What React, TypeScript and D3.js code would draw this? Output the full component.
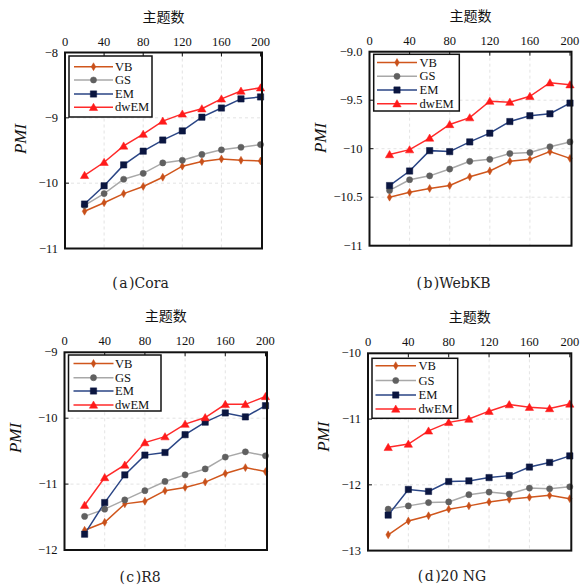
import React from "react";
import * as d3 from "d3";

const topics = [20, 40, 60, 80, 100, 120, 140, 160, 180, 200];
const xTicks = [0, 40, 80, 120, 160, 200];
const seriesNames = ["VB", "GS", "EM", "dwEM"];

// Cora
const coraVB = [-10.43, -10.3, -10.16, -10.05, -9.91, -9.74, -9.67, -9.63, -9.65, -9.66];
const coraGS = [-10.34, -10.16, -9.94, -9.85, -9.69, -9.65, -9.56, -9.49, -9.45, -9.41];
const coraEM = [-10.32, -10.04, -9.72, -9.51, -9.34, -9.2, -8.99, -8.85, -8.71, -8.68];
const coraDW = [-9.88, -9.68, -9.43, -9.25, -9.05, -8.94, -8.86, -8.71, -8.59, -8.54];
const coraYTicks = [-8, -9, -10, -11];
const coraYLabels = ["−8", "−9", "−10", "−11"];

// WebKB
const webVB = [-10.5, -10.45, -10.41, -10.38, -10.29, -10.23, -10.13, -10.11, -10.03, -10.1];
const webGS = [-10.43, -10.32, -10.28, -10.21, -10.13, -10.11, -10.05, -10.04, -9.98, -9.93];
const webEM = [-10.38, -10.23, -10.02, -10.03, -9.93, -9.84, -9.72, -9.66, -9.64, -9.53];
const webDW = [-10.06, -10.01, -9.89, -9.75, -9.68, -9.51, -9.52, -9.46, -9.32, -9.34];
const webYTicks = [-9, -9.5, -10, -10.5, -11];
const webYLabels = ["−9.0", "−9.5", "−10", "−10.5", "−11"];

// R8
const r8VB = [-11.7, -11.58, -11.3, -11.26, -11.1, -11.05, -10.97, -10.84, -10.75, -10.81];
const r8GS = [-11.49, -11.38, -11.24, -11.1, -10.96, -10.86, -10.77, -10.59, -10.51, -10.57];
const r8EM = [-11.76, -11.28, -10.86, -10.56, -10.52, -10.25, -10.06, -9.92, -9.98, -9.81];
const r8DW = [-11.32, -10.9, -10.71, -10.37, -10.28, -10.09, -9.99, -9.79, -9.79, -9.67];
const r8YTicks = [-9, -10, -11, -12];
const r8YLabels = ["−9", "−10", "−11", "−12"];

// 20 NG
const ngVB = [-12.76, -12.55, -12.47, -12.37, -12.32, -12.26, -12.22, -12.19, -12.16, -12.21];
const ngGS = [-12.37, -12.32, -12.27, -12.26, -12.15, -12.11, -12.14, -12.05, -12.06, -12.03];
const ngEM = [-12.46, -12.07, -12.1, -11.95, -11.94, -11.89, -11.86, -11.73, -11.66, -11.56];
const ngDW = [-11.43, -11.38, -11.18, -11.05, -11.0, -10.88, -10.78, -10.82, -10.84, -10.77];
const ngYTicks = [-10, -11, -12, -13];
const ngYLabels = ["−10", "−11", "−12", "−13"];

const lineColors = ["#d0561c", "#a8a8a8", "#2a4585", "#ff2a2a"];
const markerColors = ["#c8501a", "#606060", "#0b1640", "#ff1a1a"];
const markerTypes = [d3.symbolDiamond, d3.symbolCircle, d3.symbolSquare, d3.symbolTriangle];
const markerSizes = [18, 30, 40, 30];

const SERIF = "'Liberation Serif', 'Times New Roman', serif";
const WIDE_SERIF = "'DejaVu Serif', serif";
const CJK = "'Noto Sans CJK SC', sans-serif";

type PanelCfg = {
  left: number; top: number; w: number; h: number;
  series: number[][];
  yTicks: number[]; yLabels: string[];
  caption: string; capX: number; capY: number;
  legend: { x0: number; y0: number; x1: number; y1: number; rows: number[]; lx0: number; lx1: number; tx: number };
  pmiX: number; pmiY: number;
};

const panels: PanelCfg[] = [
  {
    left: 65, top: 52.5, w: 197, h: 196,
    series: [coraVB, coraGS, coraEM, coraDW],
    yTicks: coraYTicks, yLabels: coraYLabels,
    caption: "a", capX: 140.5, capY: 283,
    legend: { x0: 69, y0: 56, x1: 152, y1: 117, rows: [66.7, 80, 94, 107.3], lx0: 74, lx1: 113, tx: 115 },
    pmiX: 20, pmiY: 139,
  },
  {
    left: 369.5, top: 51.7, w: 202, h: 194,
    series: [webVB, webGS, webEM, webDW],
    yTicks: webYTicks, yLabels: webYLabels,
    caption: "b", capX: 453.5, capY: 283,
    legend: { x0: 373.7, y0: 54.3, x1: 459.3, y1: 111, rows: [62.5, 76.3, 90, 103.7], lx0: 377, lx1: 417, tx: 419.5 },
    pmiX: 320, pmiY: 138,
  },
  {
    left: 64.5, top: 352.3, w: 202.5, h: 197.7,
    series: [r8VB, r8GS, r8EM, r8DW],
    yTicks: r8YTicks, yLabels: r8YLabels,
    caption: "c", capX: 140, capY: 576.5,
    legend: { x0: 68.5, y0: 355, x1: 161, y1: 411, rows: [363.5, 377.7, 391, 405], lx0: 73.5, lx1: 113.5, tx: 115 },
    pmiX: 15, pmiY: 438,
  },
  {
    left: 368, top: 353.3, w: 203.3, h: 197.3,
    series: [ngVB, ngGS, ngEM, ngDW],
    yTicks: ngYTicks, yLabels: ngYLabels,
    caption: "d", capX: 452, capY: 576,
    legend: { x0: 372, y0: 358.3, x1: 457.7, y1: 418.3, rows: [365.7, 380.5, 395, 409], lx0: 375.5, lx1: 416, tx: 418.5 },
    pmiX: 323.5, pmiY: 436.7,
  },
];
const captionNames = ["Cora", "WebKB", "R8", "20 NG"];

function Marker({ i, x, y }: { i: number; x: number; y: number }) {
  const p = d3.symbol().type(markerTypes[i]).size(markerSizes[i])() || "";
  const dy = i === 3 ? 0.8 : 0;
  return <path d={p} transform={`translate(${x},${y + dy})`} fill={markerColors[i]} stroke={markerColors[i]} strokeWidth={0.5} />;
}

function Panel({ cfg, idx }: { cfg: PanelCfg; idx: number }) {
  const { left, top, w, h } = cfg;
  const x = d3.scaleLinear().domain([0, 201.5]).range([left, left + w]);
  const yMax = cfg.yTicks[0];
  const yMin = cfg.yTicks[cfg.yTicks.length - 1];
  const y = d3.scaleLinear().domain([yMin, yMax]).range([top + h, top]);
  const line = d3.line<number>().x((_, j) => x(topics[j])).y((d) => y(d));
  const cx = left + w / 2;
  const L = cfg.legend;
  return (
    <g>
      {xTicks.filter((t) => t > 0 && t < 200).map((t) => (
        <line key={"gx" + t} x1={x(t)} x2={x(t)} y1={top} y2={top + h} stroke="#dcdcdc" strokeWidth={0.8} strokeDasharray="3,3" />
      ))}
      {cfg.yTicks.slice(1, -1).map((t) => (
        <line key={"gy" + t} x1={left} x2={left + w} y1={y(t)} y2={y(t)} stroke="#dcdcdc" strokeWidth={0.8} strokeDasharray="3,3" />
      ))}
      {cfg.series.map((s, i) => (
        <path key={"l" + i} d={line(s) || ""} fill="none" stroke={lineColors[i]} strokeWidth={1.5} />
      ))}
      {cfg.series.map((s, i) =>
        s.map((v, j) => <Marker key={"m" + i + "-" + j} i={i} x={x(topics[j])} y={y(v)} />)
      )}
      <rect x={left} y={top} width={w} height={h} fill="none" stroke="#111" strokeWidth={2} />
      {xTicks.filter((t) => t > 0 && t < 201).map((t) => (
        <line key={"tx" + t} x1={x(t)} x2={x(t)} y1={top} y2={top + 4} stroke="#111" strokeWidth={1} />
      ))}
      {cfg.yTicks.slice(1, -1).map((t) => (
        <line key={"ty" + t} x1={left} x2={left + 4} y1={y(t)} y2={y(t)} stroke="#111" strokeWidth={1} />
      ))}
      {xTicks.map((t) => (
        <text key={"xl" + t} x={x(t)} y={top - 11} textAnchor="middle" dominantBaseline="central" fontFamily={SERIF} fontSize={12.5} fill="#111">
          {t}
        </text>
      ))}
      {cfg.yTicks.map((t, k) => (
        <text key={"yl" + t} x={left - 7} y={y(t)} textAnchor="end" dominantBaseline="central" fontFamily={SERIF} fontSize={12.5} fill="#111">
          {cfg.yLabels[k]}
        </text>
      ))}
      <text x={cx} y={top - 37} textAnchor="middle" dominantBaseline="central" fontFamily={CJK} fontSize={14} fill="#111">
        主题数
      </text>
      <text
        x={cfg.pmiX}
        y={cfg.pmiY}
        textAnchor="middle"
        dominantBaseline="central"
        fontFamily={SERIF}
        fontStyle="italic"
        fontSize={17}
        fill="#111"
        transform={`rotate(-90,${cfg.pmiX},${cfg.pmiY})`}
      >
        PMI
      </text>
      <rect x={L.x0} y={L.y0} width={L.x1 - L.x0} height={L.y1 - L.y0} fill="#fff" stroke="#111" strokeWidth={1.5} />
      {seriesNames.map((n, i) => (
        <g key={"lg" + n}>
          <line x1={L.lx0} x2={L.lx1} y1={L.rows[i]} y2={L.rows[i]} stroke={lineColors[i]} strokeWidth={1.5} />
          <Marker i={i} x={(L.lx0 + L.lx1) / 2} y={L.rows[i]} />
          <text x={L.tx} y={L.rows[i]} dominantBaseline="central" fontFamily={SERIF} fontSize={12.6} fill="#111">
            {n}
          </text>
        </g>
      ))}
      <text x={cfg.capX} y={cfg.capY} textAnchor="middle" dominantBaseline="central" fontFamily={WIDE_SERIF} fontSize={14} fill="#222">
        <tspan>(</tspan>
        <tspan dx={1.5}>{cfg.caption}</tspan>
        <tspan dx={1.5}>)</tspan>
        <tspan>{captionNames[idx]}</tspan>
      </text>
    </g>
  );
}

export default function App() {
  return (
    <svg width={584} height={587} style={{ position: "absolute", left: 0, top: 0, background: "#fff" }}>
      <rect x={0} y={0} width={584} height={587} fill="#fff" />
      {panels.map((p, i) => (
        <Panel key={i} cfg={p} idx={i} />
      ))}
    </svg>
  );
}
